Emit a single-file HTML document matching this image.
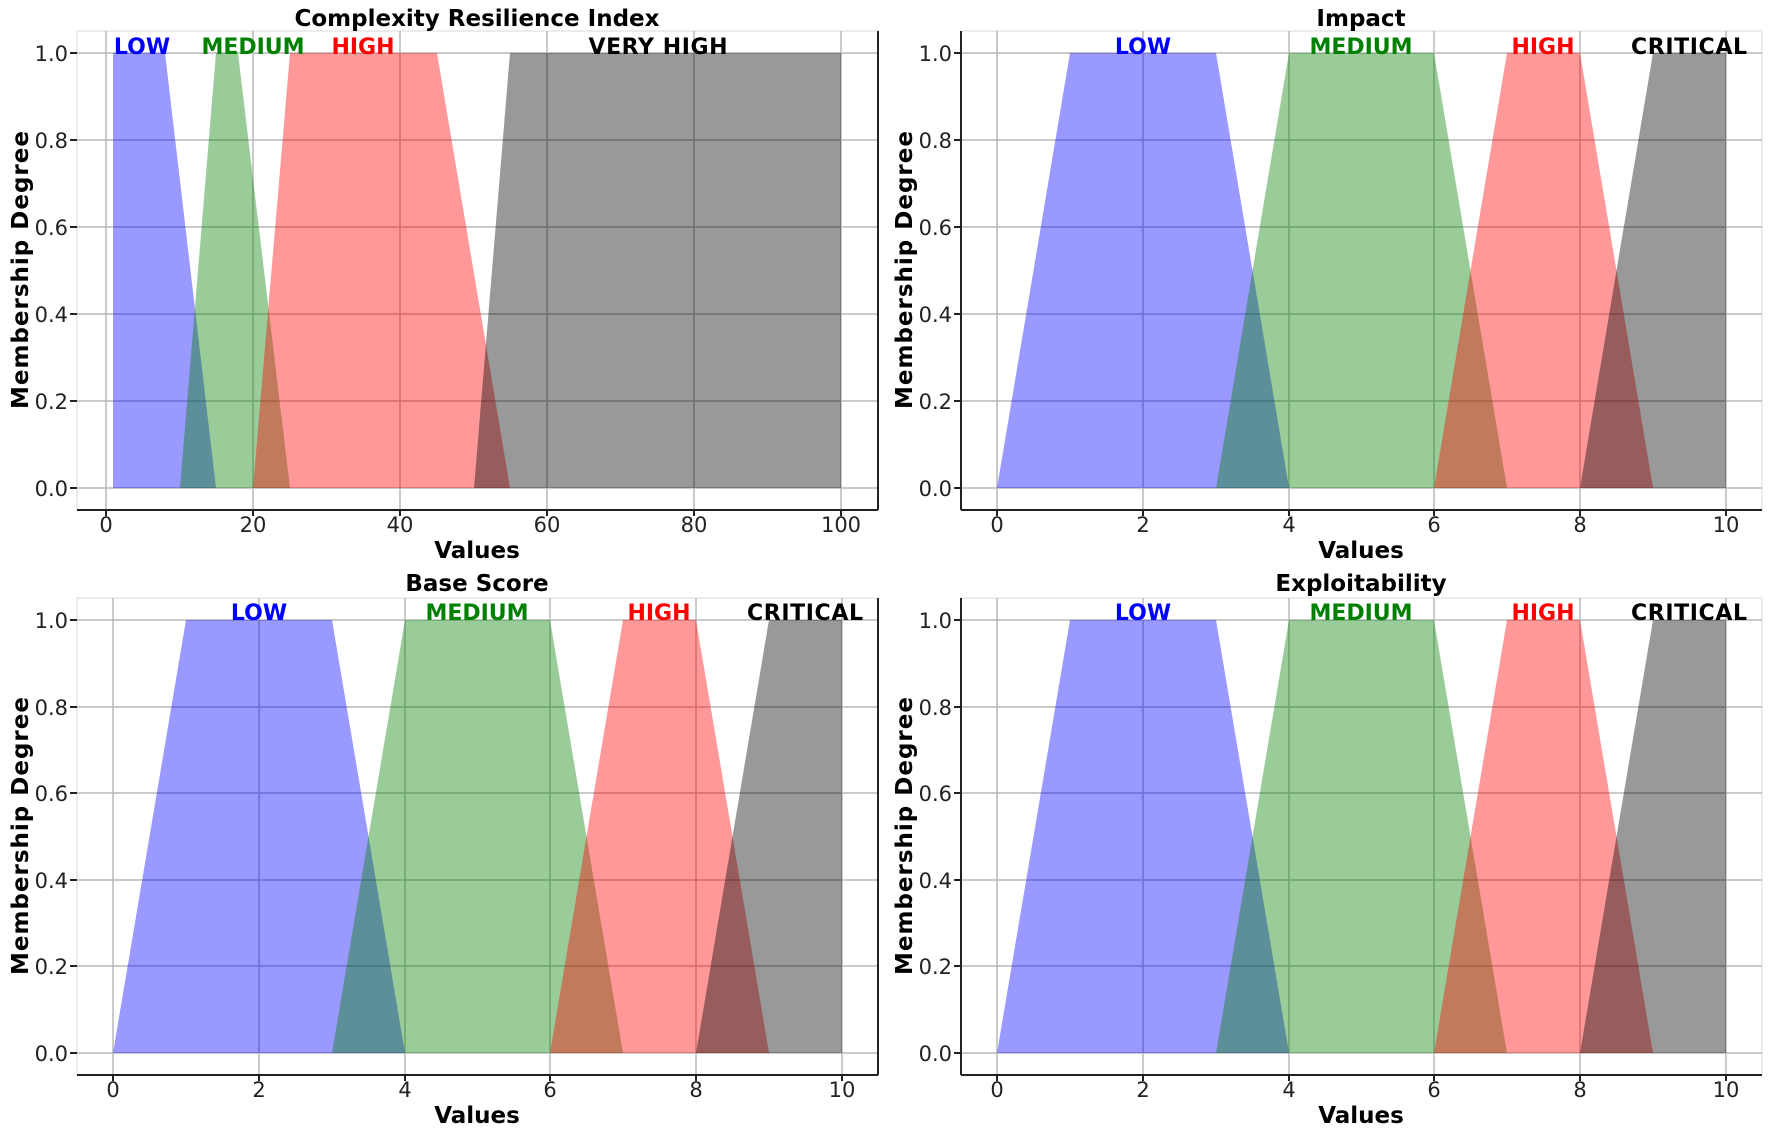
<!DOCTYPE html>
<html><head><meta charset="utf-8"><style>
html,body{margin:0;padding:0;background:#fff;}
svg{display:block;font-family:"DejaVu Sans","Liberation Sans",sans-serif;}
.t{font-size:21px;fill:#222;}
.b{font-weight:bold;font-size:22px;fill:#000;}
.tt{font-weight:bold;font-size:23px;fill:#000;}
.g{stroke:#b8b8b8;stroke-width:1.5;fill:none;}
.l{stroke:#e6e6e6;stroke-width:1.5;fill:none;}
.s{stroke:#222;stroke-width:2;fill:none;}
</style></head><body>
<svg width="1772" height="1135" viewBox="0 0 1772 1135" xmlns="http://www.w3.org/2000/svg">
<g>
<path class="l" d="M77,31H878M77,31V510"/>
<path class="g" d="M106,31V510M253,31V510M400,31V510M547,31V510M694,31V510M841,31V510"/>
<path class="g" d="M77,488H878M77,401H878M77,314H878M77,227H878M77,140H878M77,53H878"/>
<polygon points="113,488 113,53 165,53 216,488" fill="#0000ff" fill-opacity="0.4"/>
<polygon points="180,488 216,53 238,53 290,488" fill="#008000" fill-opacity="0.4"/>
<polygon points="253,488 290,53 437,53 510,488" fill="#ff0000" fill-opacity="0.4"/>
<polygon points="474,488 510,53 841,53 841,488" fill="#000000" fill-opacity="0.4"/>
<path class="s" d="M77,510H878M878,31V510"/>
<path class="s" d="M70,488H77M70,401H77M70,314H77M70,227H77M70,140H77M70,53H77M106,510v6M253,510v6M400,510v6M547,510v6M694,510v6M841,510v6" stroke-width="1.5"/>
<g class="t" text-anchor="end"><text x="68" y="496">0.0</text><text x="68" y="409">0.2</text><text x="68" y="322">0.4</text><text x="68" y="235">0.6</text><text x="68" y="148">0.8</text><text x="68" y="61">1.0</text></g>
<g class="t" text-anchor="middle"><text x="106" y="532">0</text><text x="253" y="532">20</text><text x="400" y="532">40</text><text x="547" y="532">60</text><text x="694" y="532">80</text><text x="841" y="532">100</text></g>
<text class="tt" x="477" y="558" text-anchor="middle">Values</text>
<text class="tt" x="477" y="26" text-anchor="middle">Complexity Resilience Index</text>
<text class="b" transform="translate(28,270) rotate(-90)" text-anchor="middle" textLength="278" style="font-size:23px">Membership Degree</text>
<g class="b" text-anchor="middle"><text x="142" y="54" style="fill:#0000ff">LOW</text><text x="253" y="54" style="fill:#008000">MEDIUM</text><text x="363" y="54" style="fill:#ff0000">HIGH</text><text x="658" y="54" textLength="139">VERY HIGH</text></g>
</g>
<g>
<path class="l" d="M961,31H1762V510"/>
<path class="g" d="M997,31V510M1143,31V510M1289,31V510M1434,31V510M1580,31V510M1726,31V510"/>
<path class="g" d="M961,488H1762M961,401H1762M961,314H1762M961,227H1762M961,140H1762M961,53H1762"/>
<polygon points="997,488 1070,53 1216,53 1289,488" fill="#0000ff" fill-opacity="0.4"/>
<polygon points="1216,488 1289,53 1434,53 1507,488" fill="#008000" fill-opacity="0.4"/>
<polygon points="1434,488 1507,53 1580,53 1653,488" fill="#ff0000" fill-opacity="0.4"/>
<polygon points="1580,488 1653,53 1726,53 1726,488" fill="#000000" fill-opacity="0.4"/>
<path class="s" d="M961,510H1762M961,31V510"/>
<path class="s" d="M954,488H961M954,401H961M954,314H961M954,227H961M954,140H961M954,53H961M997,510v6M1143,510v6M1289,510v6M1434,510v6M1580,510v6M1726,510v6" stroke-width="1.5"/>
<g class="t" text-anchor="end"><text x="952" y="496">0.0</text><text x="952" y="409">0.2</text><text x="952" y="322">0.4</text><text x="952" y="235">0.6</text><text x="952" y="148">0.8</text><text x="952" y="61">1.0</text></g>
<g class="t" text-anchor="middle"><text x="997" y="532">0</text><text x="1143" y="532">2</text><text x="1289" y="532">4</text><text x="1434" y="532">6</text><text x="1580" y="532">8</text><text x="1726" y="532">10</text></g>
<text class="tt" x="1361" y="558" text-anchor="middle">Values</text>
<text class="tt" x="1361" y="26" text-anchor="middle">Impact</text>
<text class="b" transform="translate(912,270) rotate(-90)" text-anchor="middle" textLength="278" style="font-size:23px">Membership Degree</text>
<g class="b" text-anchor="middle"><text x="1143" y="54" style="fill:#0000ff">LOW</text><text x="1361" y="54" style="fill:#008000">MEDIUM</text><text x="1543" y="54" style="fill:#ff0000">HIGH</text><text x="1689" y="54" textLength="116">CRITICAL</text></g>
</g>
<g>
<path class="l" d="M77,598H878M77,598V1075"/>
<path class="g" d="M113,598V1075M259,598V1075M405,598V1075M550,598V1075M696,598V1075M842,598V1075"/>
<path class="g" d="M77,1053H878M77,966H878M77,880H878M77,793H878M77,707H878M77,620H878"/>
<polygon points="113,1053 186,620 332,620 405,1053" fill="#0000ff" fill-opacity="0.4"/>
<polygon points="332,1053 405,620 550,620 623,1053" fill="#008000" fill-opacity="0.4"/>
<polygon points="550,1053 623,620 696,620 769,1053" fill="#ff0000" fill-opacity="0.4"/>
<polygon points="696,1053 769,620 842,620 842,1053" fill="#000000" fill-opacity="0.4"/>
<path class="s" d="M77,1075H878M878,598V1075"/>
<path class="s" d="M70,1053H77M70,966H77M70,880H77M70,793H77M70,707H77M70,620H77M113,1075v6M259,1075v6M405,1075v6M550,1075v6M696,1075v6M842,1075v6" stroke-width="1.5"/>
<g class="t" text-anchor="end"><text x="68" y="1061">0.0</text><text x="68" y="974">0.2</text><text x="68" y="888">0.4</text><text x="68" y="801">0.6</text><text x="68" y="715">0.8</text><text x="68" y="628">1.0</text></g>
<g class="t" text-anchor="middle"><text x="113" y="1097">0</text><text x="259" y="1097">2</text><text x="405" y="1097">4</text><text x="550" y="1097">6</text><text x="696" y="1097">8</text><text x="842" y="1097">10</text></g>
<text class="tt" x="477" y="1123" text-anchor="middle">Values</text>
<text class="tt" x="477" y="591" text-anchor="middle">Base Score</text>
<text class="b" transform="translate(28,836) rotate(-90)" text-anchor="middle" textLength="278" style="font-size:23px">Membership Degree</text>
<g class="b" text-anchor="middle"><text x="259" y="620" style="fill:#0000ff">LOW</text><text x="477" y="620" style="fill:#008000">MEDIUM</text><text x="659" y="620" style="fill:#ff0000">HIGH</text><text x="805" y="620" textLength="116">CRITICAL</text></g>
</g>
<g>
<path class="l" d="M961,598H1762V1075"/>
<path class="g" d="M997,598V1075M1143,598V1075M1289,598V1075M1434,598V1075M1580,598V1075M1726,598V1075"/>
<path class="g" d="M961,1053H1762M961,966H1762M961,880H1762M961,793H1762M961,707H1762M961,620H1762"/>
<polygon points="997,1053 1070,620 1216,620 1289,1053" fill="#0000ff" fill-opacity="0.4"/>
<polygon points="1216,1053 1289,620 1434,620 1507,1053" fill="#008000" fill-opacity="0.4"/>
<polygon points="1434,1053 1507,620 1580,620 1653,1053" fill="#ff0000" fill-opacity="0.4"/>
<polygon points="1580,1053 1653,620 1726,620 1726,1053" fill="#000000" fill-opacity="0.4"/>
<path class="s" d="M961,1075H1762M961,598V1075"/>
<path class="s" d="M954,1053H961M954,966H961M954,880H961M954,793H961M954,707H961M954,620H961M997,1075v6M1143,1075v6M1289,1075v6M1434,1075v6M1580,1075v6M1726,1075v6" stroke-width="1.5"/>
<g class="t" text-anchor="end"><text x="952" y="1061">0.0</text><text x="952" y="974">0.2</text><text x="952" y="888">0.4</text><text x="952" y="801">0.6</text><text x="952" y="715">0.8</text><text x="952" y="628">1.0</text></g>
<g class="t" text-anchor="middle"><text x="997" y="1097">0</text><text x="1143" y="1097">2</text><text x="1289" y="1097">4</text><text x="1434" y="1097">6</text><text x="1580" y="1097">8</text><text x="1726" y="1097">10</text></g>
<text class="tt" x="1361" y="1123" text-anchor="middle">Values</text>
<text class="tt" x="1361" y="591" text-anchor="middle">Exploitability</text>
<text class="b" transform="translate(912,836) rotate(-90)" text-anchor="middle" textLength="278" style="font-size:23px">Membership Degree</text>
<g class="b" text-anchor="middle"><text x="1143" y="620" style="fill:#0000ff">LOW</text><text x="1361" y="620" style="fill:#008000">MEDIUM</text><text x="1543" y="620" style="fill:#ff0000">HIGH</text><text x="1689" y="620" textLength="116">CRITICAL</text></g>
</g>
</svg>
</body></html>
